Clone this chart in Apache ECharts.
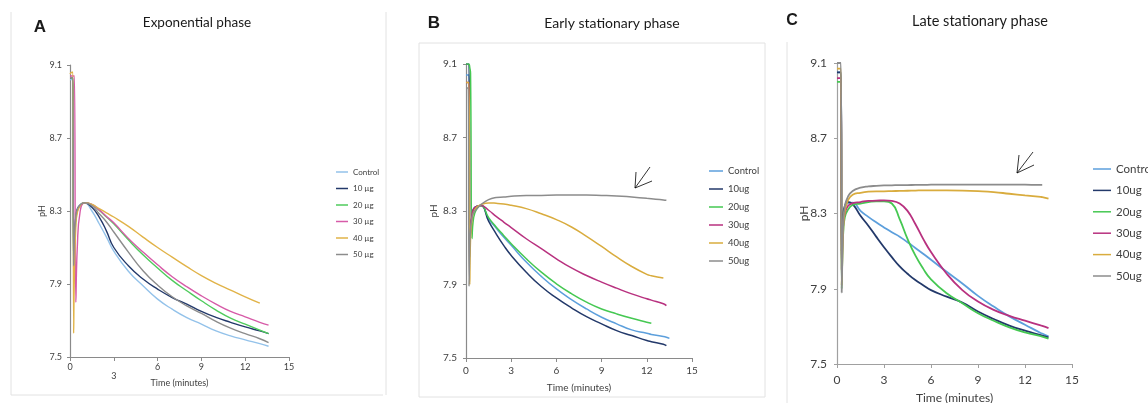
<!DOCTYPE html>
<html>
<head>
<meta charset="utf-8">
<script src="https://cdn.jsdelivr.net/npm/echarts@6/dist/echarts.min.js"></script>
<style>
  html, body { margin: 0; padding: 0; background: #fff; }
  #chart { width: 1148px; height: 403px; }
</style>
</head>
<body>
<div id="chart"></div>
<script>
// tick labels
var xTicks = [0, 3, 6, 9, 12, 15];
var yTicks = [7.5, 7.9, 8.3, 8.7, 9.1];
var seriesNamesA = ["Control", "10 µg", "20 µg", "30 µg", "40 µg", "50 µg"];
var seriesNamesBC = ["Control", "10ug", "20ug", "30ug", "40ug", "50ug"];

// A - exponential phase (time in minutes, pH)
var timeA = [0, 0.15, 0.2, 0.25, 0.3, 0.4, 0.5, 0.7, 1, 1.5, 2, 2.5, 3, 4, 5, 6, 7, 8, 9, 10, 11, 12, 13, 13.6];
var expControl = [9.02, 9.02, 9.02, 8.05, 8.18, 8.28, 8.31, 8.335, 8.345, 8.30, 8.23, 8.157, 8.08, 7.97, 7.89, 7.817, 7.762, 7.716, 7.68, 7.643, 7.616, 7.594, 7.573, 7.559];
var exp10 = [9.03, 9.03, 9.03, 8.0, 8.15, 8.27, 8.31, 8.33, 8.345, 8.32, 8.267, 8.19, 8.10, 8.0, 7.927, 7.872, 7.826, 7.79, 7.75, 7.717, 7.69, 7.665, 7.643, 7.628];
var exp20 = [9.03, 9.03, 9.03, 7.9, 8.1, 8.25, 8.30, 8.33, 8.345, 8.335, 8.304, 8.267, 8.23, 8.142, 8.06, 7.988, 7.92, 7.863, 7.808, 7.757, 7.713, 7.68, 7.647, 7.628];
var exp30 = [9.04, 9.04, 9.04, 9.04, 9.04, 7.8, 8.1, 8.3, 8.345, 8.336, 8.306, 8.27, 8.235, 8.15, 8.075, 8.005, 7.94, 7.885, 7.835, 7.79, 7.75, 7.72, 7.69, 7.675];
var exp40 = [9.05, 9.06, 9.06, 7.63, 7.95, 8.22, 8.29, 8.33, 8.345, 8.336, 8.313, 8.29, 8.267, 8.216, 8.157, 8.10, 8.047, 7.995, 7.946, 7.904, 7.867, 7.83, 7.795];
var exp50 = [9.03, 9.03, 9.03, 8.0, 8.15, 8.27, 8.31, 8.335, 8.345, 8.33, 8.285, 8.24, 8.185, 8.075, 7.973, 7.894, 7.83, 7.78, 7.739, 7.695, 7.658, 7.628, 7.60, 7.579];

// B - early stationary phase
var timeB = [0, 0.15, 0.2, 0.25, 0.3, 0.4, 0.5, 0.7, 1, 1.5, 2, 2.5, 3, 4, 5, 6, 7, 8, 9, 10, 11, 12, 12.3, 13.1, 13.3, 13.5];
var earlyControl = [9.04, 9.04, 9.04, 8.05, 8.2, 8.27, 8.31, 8.325, 8.33, 8.258, 8.207, 8.158, 8.113, 8.022, 7.944, 7.876, 7.818, 7.767, 7.722, 7.686, 7.653, 7.635, 7.628, 7.617, 7.613, 7.607];
var early10 = [9.1, 9.1, 9.1, 8.1, 8.2, 8.27, 8.31, 8.325, 8.33, 8.245, 8.176, 8.113, 8.058, 7.967, 7.889, 7.827, 7.773, 7.725, 7.686, 7.649, 7.622, 7.595, 7.589, 7.575, 7.567];
var early20 = [9.1, 9.1, 9.1, 9.08, 9.05, 8.15, 8.26, 8.31, 8.33, 8.264, 8.213, 8.167, 8.122, 8.04, 7.967, 7.904, 7.85, 7.804, 7.767, 7.74, 7.716, 7.695, 7.689];
var early30 = [9.0, 9.0, 9.0, 8.1, 8.2, 8.28, 8.31, 8.325, 8.33, 8.304, 8.271, 8.24, 8.21, 8.149, 8.095, 8.04, 7.99, 7.949, 7.913, 7.88, 7.849, 7.822, 7.815, 7.795, 7.785];
var early40 = [9.0, 9.0, 9.0, 7.9, 8.15, 8.25, 8.29, 8.32, 8.335, 8.344, 8.342, 8.338, 8.331, 8.313, 8.285, 8.253, 8.213, 8.162, 8.107, 8.05, 7.998, 7.955, 7.948, 7.935];
var early50 = [8.97, 8.97, 7.89, 8.1, 8.2, 8.26, 8.29, 8.31, 8.335, 8.362, 8.373, 8.376, 8.38, 8.384, 8.385, 8.387, 8.387, 8.387, 8.385, 8.382, 8.376, 8.369, 8.367, 8.36, 8.358];

// C - late stationary phase
var timeC = [0, 0.15, 0.2, 0.25, 0.3, 0.35, 0.4, 0.5, 0.7, 1, 1.5, 2, 2.5, 3, 3.5, 4, 4.5, 5, 5.5, 6, 7, 8, 9, 10, 11, 12, 13, 13.1, 13.5];
var lateControl = [9.05, 9.05, 9.05, 9.05, 8.08, 8.2, 8.28, 8.33, 8.355, 8.358, 8.314, 8.282, 8.253, 8.226, 8.2, 8.177, 8.147, 8.117, 8.086, 8.054, 7.99, 7.928, 7.862, 7.805, 7.753, 7.709, 7.665, 7.662, 7.647];
var late10 = [9.05, 9.05, 9.05, 9.05, 8.1, 8.22, 8.3, 8.34, 8.362, 8.35, 8.288, 8.235, 8.177, 8.121, 8.068, 8.019, 7.98, 7.946, 7.919, 7.893, 7.858, 7.826, 7.779, 7.739, 7.704, 7.677, 7.653, 7.651, 7.642];
var late20 = [9.0, 9.0, 9.0, 9.0, 7.9, 8.1, 8.2, 8.28, 8.32, 8.345, 8.353, 8.36, 8.365, 8.365, 8.353, 8.27, 8.165, 8.077, 8.007, 7.95, 7.876, 7.823, 7.77, 7.73, 7.695, 7.668, 7.648, 7.646, 7.635];
var late30 = [9.02, 9.02, 9.02, 9.02, 8.0, 8.15, 8.24, 8.3, 8.34, 8.355, 8.361, 8.367, 8.368, 8.37, 8.367, 8.353, 8.314, 8.244, 8.165, 8.095, 7.98, 7.893, 7.832, 7.788, 7.756, 7.73, 7.705, 7.703, 7.691];
var late40 = [9.07, 9.07, 9.07, 9.07, 7.92, 8.1, 8.22, 8.31, 8.37, 8.40, 8.41, 8.416, 8.418, 8.418, 8.419, 8.42, 8.421, 8.422, 8.423, 8.423, 8.423, 8.422, 8.419, 8.414, 8.405, 8.396, 8.388, 8.387, 8.379];
var late50 = [9.1, 9.1, 9.1, 9.1, 7.88, 8.1, 8.25, 8.34, 8.39, 8.42, 8.437, 8.444, 8.447, 8.449, 8.45, 8.451, 8.451, 8.452, 8.452, 8.453, 8.453, 8.454, 8.454, 8.454, 8.454, 8.453, 8.452, 8.452];

var colorsA = ["#93c2ea", "#23396a", "#4fcb5c", "#d75ba8", "#e1b348", "#8c8c8c"];
var colorsBC = ["#5c9fdc", "#23396a", "#45c852", "#b8317f", "#d9ac3e", "#8c8c8c"];

// y values are drawn relative to the bottom of the axis (7.5)
var yBase = 7.5;
function pairs(time, vals) {
  return vals.map(function (v, i) { return [time[i], +(v - yBase).toFixed(3)]; });
}

var panels = [
  { grid: { left: 70, top: 65, width: 219, height: 292 }, time: timeA, sets: [expControl, exp10, exp20, exp30, exp40, exp50],
    names: seriesNamesA, colors: colorsA, font: 9, lw: 1.4, xMargin: 6, yMargin: 8, xGap: 22, yGap: 23, axisColor: "#8a8a8a" },
  { grid: { left: 466, top: 64, width: 226, height: 294 }, time: timeB, sets: [earlyControl, early10, early20, early30, early40, early50],
    names: seriesNamesBC, colors: colorsBC, font: 10, lw: 1.5, xMargin: 8, yMargin: 9, xGap: 25, yGap: 27, axisColor: "#8a8a8a" },
  { grid: { left: 837, top: 63, width: 235, height: 301 }, time: timeC, sets: [lateControl, late10, late20, late30, late40, late50],
    names: seriesNamesBC, colors: colorsBC, font: 12, lw: 1.8, xMargin: 10, yMargin: 10, xGap: 28, yGap: 27, axisColor: "#a0a0a0" }
];

var grids = [], xAxes = [], yAxes = [], series = [];
panels.forEach(function (p, k) {
  var g = p.grid;
  grids.push({ left: g.left, top: g.top, width: g.width, height: g.height, containLabel: false, outerBoundsMode: "none" });
  xAxes.push({
    gridIndex: k, type: "value", min: 0, max: 15, interval: 3,
    name: "Time (minutes)", nameLocation: "middle", nameGap: p.xGap, nameMoveOverlap: false,
    nameTextStyle: { fontFamily: "Lato", fontSize: p.font, color: "#404040" },
    axisLine: { lineStyle: { color: p.axisColor, width: 1.2 } },
    axisTick: { show: true, length: 4, lineStyle: { color: p.axisColor } },
    axisLabel: {
      fontFamily: "Lato", fontSize: p.font, color: "#404040", margin: p.xMargin,
      formatter: function (v) { return (k === 0 && v === 3) ? "\n3" : String(v); }
    },
    splitLine: { show: false }
  });
  yAxes.push({
    gridIndex: k, type: "value", min: 0, max: yTicks[yTicks.length - 1] - yBase, interval: 0.4,
    name: "pH", nameLocation: "middle", nameGap: p.yGap, nameMoveOverlap: false,
    nameTextStyle: { fontFamily: "Lato", fontSize: p.font, color: "#404040" },
    axisLine: { show: true, lineStyle: { color: p.axisColor, width: 1.2 } },
    axisTick: { show: true, length: 3, lineStyle: { color: p.axisColor } },
    axisLabel: {
      fontFamily: "Lato", fontSize: p.font, color: "#404040", margin: p.yMargin,
      formatter: function (v) { return (v + yBase).toFixed(1); }
    },
    splitLine: { show: false }
  });
  p.sets.forEach(function (vals, i) {
    series.push({
      name: p.names[i], type: "line", xAxisIndex: k, yAxisIndex: k,
      data: pairs(p.time, vals), showSymbol: false, symbol: "none",
      smooth: 0.5,
      lineStyle: { color: p.colors[i], width: p.lw },
      itemStyle: { color: p.colors[i] }
    });
  });
});

function legendFor(p, left, top, iconW, font, lh, gap) {
  return {
    orient: "vertical", left: left, top: top, icon: "rect",
    itemWidth: iconW, itemHeight: 1.5, itemGap: gap, selectedMode: false,
    itemStyle: { borderWidth: 0 },
    textStyle: { fontFamily: "Lato", fontSize: font, lineHeight: lh, color: "#404040" },
    data: p.names.map(function (n, i) {
      return { name: n, itemStyle: { color: p.colors[i], borderWidth: 0 } };
    })
  };
}

function line(x1, y1, x2, y2, c, w) {
  return { type: "line", shape: { x1: x1, y1: y1, x2: x2, y2: y2 }, style: { stroke: c, lineWidth: w || 1 } };
}
function label(x, y, t, font) {
  return { type: "text", x: x, y: y, style: { text: t, font: font, fill: "#1a1a1a", align: "center", verticalAlign: "middle" } };
}

var frame = "#e2e2e2";
var option = {
  animation: false,
  backgroundColor: "#fff",
  grid: grids,
  xAxis: xAxes,
  yAxis: yAxes,
  legend: [
    legendFor(panels[0], 331, 162, 12, 8, 10, 6.5),
    legendFor(panels[1], 704, 160, 14, 9.5, 12, 6),
    legendFor(panels[2], 1088, 157, 18, 11.5, 14, 7.4)
  ],
  series: series,
  graphic: [
    line(11, 12, 11, 395, frame), line(11, 395, 383, 395, frame),
    line(386, 12, 386, 395, frame),
    { type: "rect", shape: { x: 419, y: 43, width: 346, height: 354 }, style: { fill: "none", stroke: frame, lineWidth: 1 } },
    line(787, 42, 787, 403, frame),
    label(40, 27, "A", "bold 17px 'Liberation Sans'"),
    label(434, 23, "B", "bold 17px 'Liberation Sans'"),
    label(792, 21, "C", "bold 16px 'Liberation Sans'"),
    label(197, 23, "Exponential phase", "13.5px Lato"),
    label(612, 23, "Early stationary phase", "14px Lato"),
    label(980, 21, "Late stationary phase", "14.5px Lato"),
    // arrows pointing at the 50ug curve
    line(635, 188, 650, 167, "#000", 0.8), line(635, 188, 652, 181, "#000", 0.8), line(635, 188, 636, 172, "#000", 0.8),
    line(1017, 173, 1033, 152, "#000", 0.8), line(1017, 173, 1034, 165, "#000", 0.8), line(1017, 173, 1019, 155, "#000", 0.8)
  ]
};

var myChart = echarts.init(document.getElementById("chart"));
myChart.setOption(option);
</script>
</body>
</html>
